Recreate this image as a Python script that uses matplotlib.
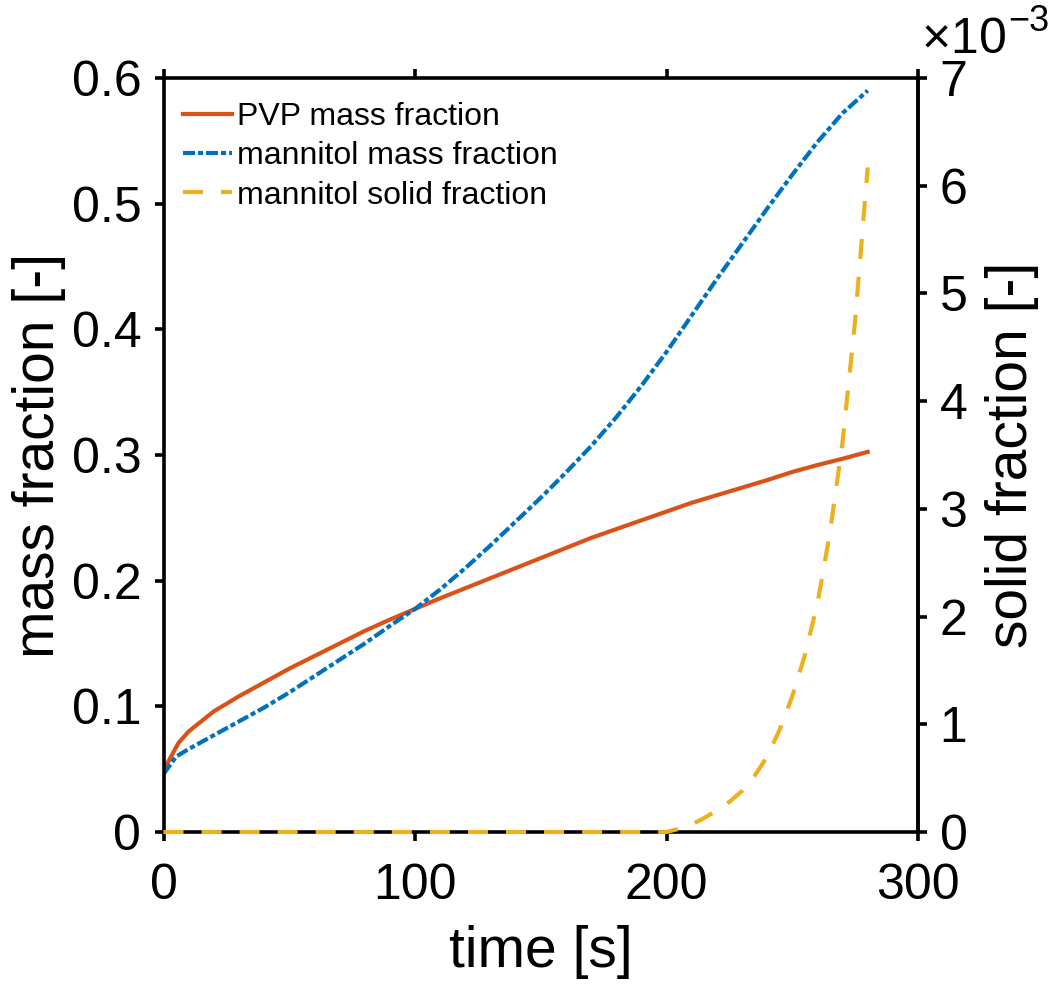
import matplotlib
matplotlib.use('Agg')
import matplotlib.pyplot as plt
from matplotlib.ticker import FuncFormatter

plt.rcParams['font.family'] = ['Liberation Sans', 'DejaVu Sans']
plt.rcParams['mathtext.fontset'] = 'custom'
plt.rcParams['mathtext.rm'] = 'Liberation Sans'
plt.rcParams['mathtext.it'] = 'Liberation Sans:italic'
plt.rcParams['mathtext.bf'] = 'Liberation Sans:bold'
plt.rcParams['lines.scale_dashes'] = False

# ---- data ----
t_pvp = [0, 6, 10, 20, 30, 40, 50, 60, 70, 80, 90, 100, 110, 120, 130, 140, 150,
         160, 170, 180, 190, 200, 210, 220, 230, 240, 250, 260, 270, 280]
pvp_mass = [0.049, 0.071, 0.080, 0.096, 0.108, 0.119, 0.130, 0.140, 0.150, 0.160,
            0.169, 0.1775, 0.186, 0.194, 0.202, 0.210, 0.218, 0.226, 0.234, 0.241,
            0.248, 0.255, 0.262, 0.268, 0.274, 0.280, 0.2865, 0.292, 0.297, 0.3025]

t_man = [0, 5, 10, 20, 30, 40, 50, 60, 70, 80, 90, 100, 110, 120, 130, 140, 150,
         160, 170, 180, 190, 200, 210, 220, 230, 240, 250, 260, 270, 280]
man_mass = [0.046, 0.060, 0.066, 0.077, 0.088, 0.099, 0.111, 0.124, 0.137, 0.150,
            0.164, 0.1775, 0.193, 0.210, 0.228, 0.247, 0.266, 0.286, 0.307, 0.330,
            0.355, 0.382, 0.411, 0.440, 0.468, 0.496, 0.523, 0.549, 0.572, 0.590]

t_sol = [0, 100, 200, 205, 210, 215, 220, 225, 230, 235, 240, 245, 250, 255, 260,
         265, 270, 275, 280]
man_solid = [0, 0, 0, 0.03e-3, 0.07e-3, 0.13e-3, 0.20e-3, 0.28e-3, 0.38e-3, 0.52e-3,
             0.70e-3, 0.95e-3, 1.26e-3, 1.64e-3, 2.12e-3, 2.78e-3, 3.62e-3, 4.75e-3,
             6.17e-3]

x_ticks = [0, 100, 200, 300]
y_ticks = [0, 0.1, 0.2, 0.3, 0.4, 0.5, 0.6]
y2_ticks = [0, 1e-3, 2e-3, 3e-3, 4e-3, 5e-3, 6e-3, 7e-3]

labels = ['PVP mass fraction', 'mannitol mass fraction', 'mannitol solid fraction']
colors = ['#D95319', '#0072BD', '#EDB120']

W, H = 1061, 985
fig = plt.figure(figsize=(W / 100, H / 100), dpi=100)
L, R, T, B = 163.5, 918, 78, 832
ax = fig.add_axes([L / W, 1 - B / H, (R - L) / W, (B - T) / H])
ax2 = ax.twinx()

l1, = ax.plot(t_pvp, pvp_mass, color=colors[0], lw=3, label=labels[0])
l2, = ax.plot(t_man, man_mass, color=colors[1], lw=3, dashes=[8.6, 2.2, 3.6, 2.2],
              dash_capstyle='butt', label=labels[1])
l3, = ax2.plot(t_sol, man_solid, color=colors[2], lw=3, dashes=[14.4, 13],
               dash_capstyle='butt', label=labels[2], clip_on=False, zorder=3)

ax.set_xlim(0, 300)
ax.set_ylim(0, 0.6)
ax2.set_ylim(0, 7e-3)
ax.set_xticks(x_ticks)
ax.set_yticks(y_ticks)
ax2.set_yticks(y2_ticks)
ax.xaxis.set_major_formatter(FuncFormatter(lambda v, p: f'{v:g}'))
ax.yaxis.set_major_formatter(FuncFormatter(lambda v, p: f'{round(v, 6):g}'))
ax2.yaxis.set_major_formatter(FuncFormatter(lambda v, p: f'{round(v * 1e3, 6):g}'))

lw_ax = 2.6
for a in (ax, ax2):
    for s in a.spines.values():
        s.set_linewidth(lw_ax)
for s in ['left', 'top', 'bottom']:
    ax2.spines[s].set_visible(False)

ax.tick_params(axis='x', direction='out', length=6.5, width=lw_ax, labelsize=36,
               pad=16, top=True, bottom=True, labeltop=False)
ax.tick_params(axis='y', direction='out', length=6.5, width=lw_ax, labelsize=36,
               pad=9.5, left=True, right=False)
ax2.tick_params(axis='y', direction='out', length=6.5, width=lw_ax, labelsize=36,
                pad=9, right=True, left=False)

ax.set_xlabel('time [s]', fontsize=41, labelpad=11)
ax.set_ylabel('mass fraction [-]', fontsize=41, labelpad=4)
ax2.set_ylabel('solid fraction [-]', fontsize=41, labelpad=13)

# exponent label of the right axis
fig.text(921 / W, 1 - 53 / H, '$×10$', fontsize=36, ha='left', va='baseline')
fig.text(1008 / W, 1 - 31 / H, '\u22123', fontsize=26, ha='left', va='baseline')

ax2.legend([l1, l2, l3], labels, loc='upper left', bbox_to_anchor=(0.0258, 0.968),
           frameon=False, fontsize=23, handlelength=1.53, handletextpad=0.15,
           labelspacing=0.29, borderaxespad=0, borderpad=0)

fig.savefig('out.png', dpi=100)
